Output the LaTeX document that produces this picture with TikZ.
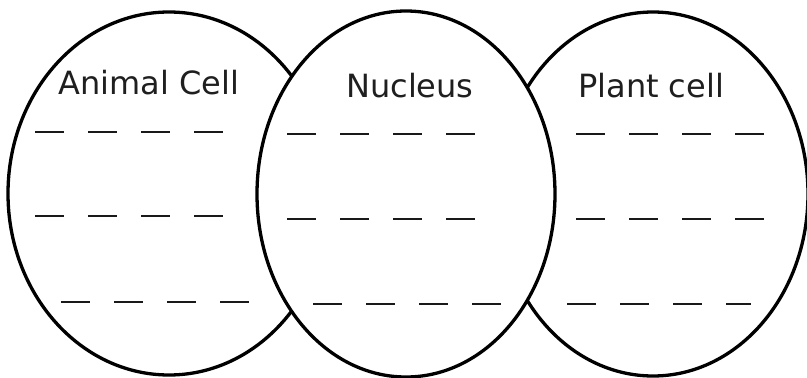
\documentclass[tikz,border=0pt]{standalone}
\usepackage{fontspec}
\setmainfont{DejaVu Sans}
\usetikzlibrary{shapes.geometric}
\begin{document}
\begin{tikzpicture}[x=1pt,y=-1pt,
  cell/.style={draw=black,ellipse,line width=3.3pt,inner sep=0pt},
  blank/.style={draw=black!90,line width=2.6pt,dash pattern=on 29pt off 24pt},
  title/.style={anchor=base west,inner sep=0pt,font=\fontsize{32}{38}\selectfont,text=black!88}]
\useasboundingbox (0,0) rectangle (807,378);
\fill[white] (0,0) rectangle (807,378);
\begin{scope}
\clip (0,0) rectangle (807,378);
\node[cell,minimum width=322pt,minimum height=363pt] (animal) at (169,193.5) {};
\node[cell,minimum width=310pt,minimum height=364pt] (plant) at (653,194) {};
\node[cell,fill=white,minimum width=298pt,minimum height=366pt] (nucleus) at (406,194) {};
\end{scope}
\node[title] (ta) at (58,94) {Animal Cell};
\node[title] (tn) at (346,97) {Nucleus};
\node[title] (tp) at (578,97) {Plant cell};
% blanks
\draw[blank] (35,132) -- (223,132);
\draw[blank] (35,216) -- (223,216);
\draw[blank] (61,302) -- (249,302);
\draw[blank] (287,134) -- (476,134);
\draw[blank] (287,219) -- (477,219);
\draw[blank] (313,304) -- (502,304);
\draw[blank] (576,134) -- (764,134);
\draw[blank] (576,219) -- (764,219);
\draw[blank] (567,304) -- (751,304);
\end{tikzpicture}
\end{document}
